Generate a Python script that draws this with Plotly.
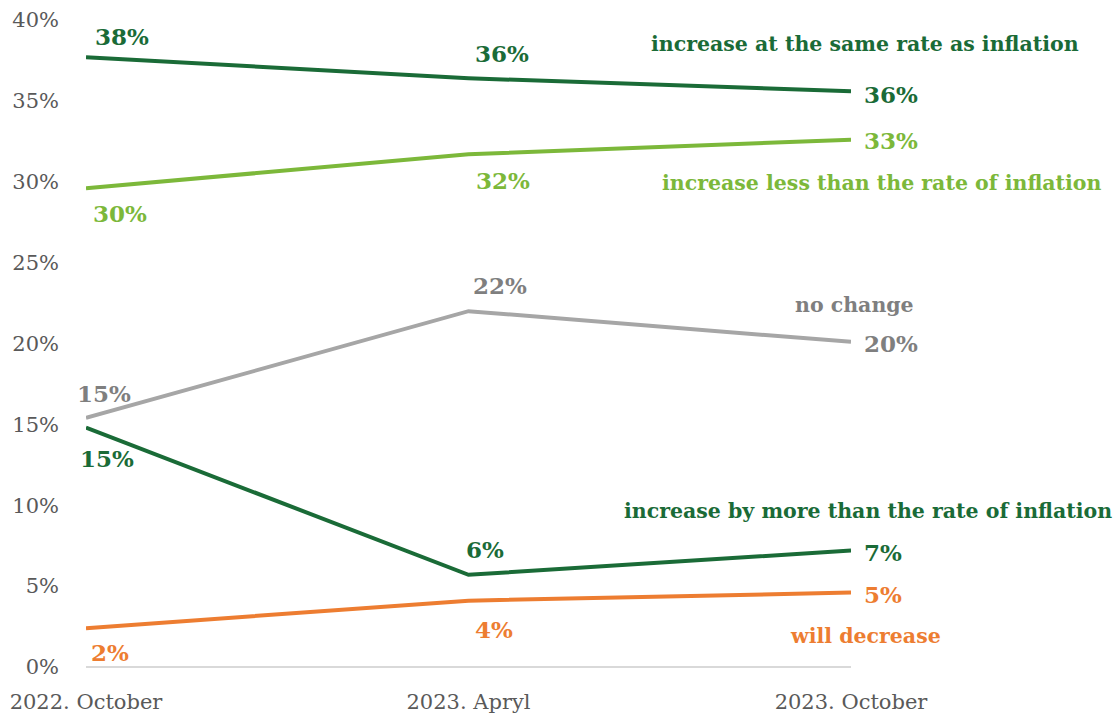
import plotly.graph_objects as go

# Survey waves
periods = ["2022. October", "2023. Apryl", "2023. October"]

# Share of respondents (%) per expectation
same_rate = [37.7, 36.4, 35.6]
less_than = [29.6, 31.7, 32.6]
no_change = [15.4, 22.0, 20.1]
more_than = [14.8, 5.7, 7.2]
decrease = [2.4, 4.1, 4.6]

series_names = [
    "increase at the same rate as inflation",
    "increase less than the rate of inflation",
    "no change",
    "increase by more than the rate of inflation",
    "will decrease",
]

DARK_GREEN = "#1a6b37"
LIGHT_GREEN = "#7cb83a"
GREY = "#a6a6a6"
GREY_TEXT = "#7f7f7f"
ORANGE = "#ed7d31"
FONT = "DejaVu Serif"

series = [
    # values, line colour, label colour, label offsets per point (dx, dy), name offset (dx, dy)
    (same_rate, DARK_GREEN, DARK_GREEN, [(36, 21), (33, 25), (None, -3)], (14, 47)),
    (less_than, LIGHT_GREEN, LIGHT_GREEN, [(34, -25), (34, -26), (None, -1)], (30, -43)),
    (no_change, GREY, GREY_TEXT, [(18, 24), (31, 26), (None, -2)], (3, 37)),
    (more_than, DARK_GREEN, DARK_GREEN, [(21, -31), (16, 25), (None, -2)], (17, 40)),
    (decrease, ORANGE, ORANGE, [(24, -24), (25, -29), (None, -2)], (14, -43)),
]

fig = go.Figure()
annotations = []
for (vals, lc, tc, offs, name_off), name in zip(series, series_names):
    fig.add_trace(go.Scatter(
        x=periods, y=vals, mode="lines", name=name,
        line=dict(color=lc, width=4), showlegend=False, hoverinfo="skip",
    ))
    for i, (v, (dx, dy)) in enumerate(zip(vals, offs)):
        if dx is None:
            annotations.append(dict(
                x=periods[i], y=v, xref="x", yref="y", text=f"{v:.0f}%",
                showarrow=False, xanchor="left", yanchor="middle", xshift=11, yshift=dy,
                font=dict(family=FONT, size=23, color=tc, weight="bold"),
            ))
        else:
            annotations.append(dict(
                x=periods[i], y=v, xref="x", yref="y", text=f"{v:.0f}%",
                showarrow=False, xanchor="center", yanchor="middle", xshift=dx, yshift=dy,
                font=dict(family=FONT, size=23, color=tc, weight="bold"),
            ))
    annotations.append(dict(
        x=periods[-1], y=vals[-1], xref="x", yref="y", text=name,
        showarrow=False, xanchor="center", yanchor="middle",
        xshift=name_off[0], yshift=name_off[1],
        font=dict(family=FONT, size=20.5, color=tc, weight="bold"),
    ))

fig.update_layout(
    width=1119, height=720,
    margin=dict(l=86, r=268, t=20, b=53),
    paper_bgcolor="white", plot_bgcolor="white",
    font=dict(family=FONT, color="#595959", size=20),
    annotations=annotations,
)
fig.update_xaxes(
    type="category", range=[0, 2], showgrid=False, zeroline=False,
    showline=False, ticks="", tickfont=dict(size=21, color="#595959"),
    ticklabelstandoff=20, automargin=False,
)
fig.update_yaxes(
    range=[0, 40], dtick=5, ticksuffix="%", showgrid=False,
    zeroline=True, zerolinecolor="#d9d9d9", zerolinewidth=2,
    showline=False, ticks="", tickfont=dict(size=21, color="#595959"),
    ticklabelstandoff=26, automargin=False,
)

fig.write_html("out.html")
